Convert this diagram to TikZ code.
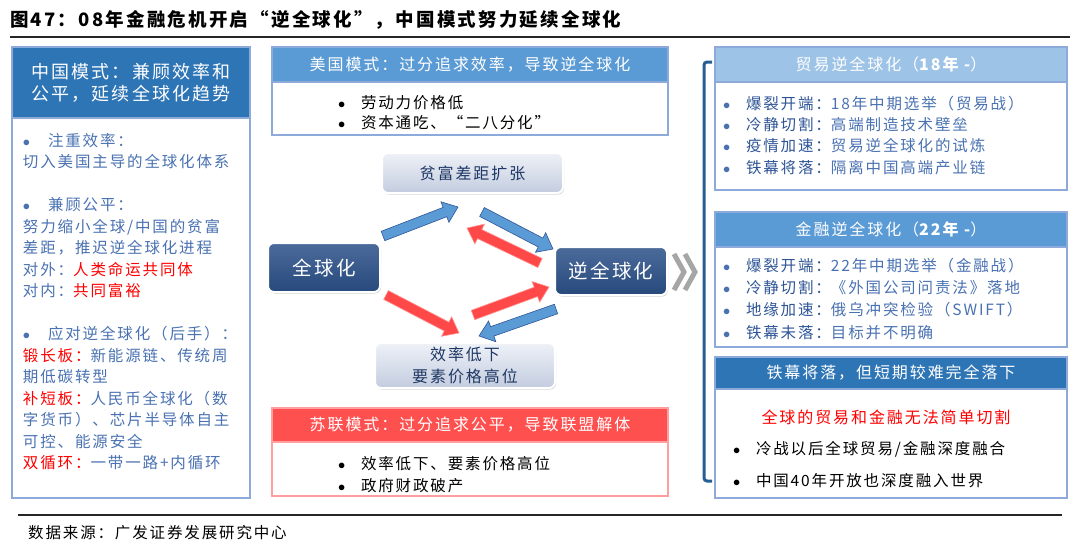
\documentclass[tikz,border=0pt]{standalone}
\usepackage{fontspec}
\setmainfont{Noto Sans CJK SC}[LetterSpace=12]
\usepackage{xcolor}
\usetikzlibrary{positioning, calc, shadows}
\definecolor{gfDark}  {HTML}{2E75B6}
\definecolor{gfMid}   {HTML}{5B9BD5}
\definecolor{gfLight} {HTML}{9DC3E6}
\definecolor{gfFrame} {HTML}{8EAADB}
\definecolor{gfText}  {HTML}{4A72B2}
\definecolor{gfLabel} {HTML}{2F5597}
\definecolor{gfNavy}  {HTML}{1F3864}
\definecolor{gfRed}   {HTML}{FF5050}
\definecolor{gfAlert} {HTML}{FF0000}
\definecolor{gfRule}  {HTML}{262626}
\definecolor{gfState} {HTML}{2B5189}
\definecolor{gfPaleTop}{HTML}{EEF1F7}
\definecolor{gfPaleBot}{HTML}{C3CCDF}
\newcommand{\bul}[1][23pt]{\makebox[#1][l]{$\bullet$}}
\newcommand{\fatarrow}[3]{%
  \filldraw[#1] ($(#2)!5pt!90:(#3)$)
    -- ($(#3)!14pt!(#2)!5pt!90:(#3)$) -- ($(#3)!14pt!(#2)!11pt!90:(#3)$)
    -- (#3)
    -- ($(#3)!14pt!(#2)!11pt!-90:(#3)$) -- ($(#3)!14pt!(#2)!5pt!-90:(#3)$)
    -- ($(#2)!5pt!-90:(#3)$) -- cycle;}
\tikzset{
  frame/.style = {rectangle, draw=gfFrame, fill=white, line width=1.2pt,
                  anchor=north west, inner sep=0pt, outer sep=0pt},
  head/.style  = {rectangle, draw=gfFrame, line width=1.2pt, anchor=north west,
                  text=white, inner sep=0pt, outer sep=0pt, align=center,
                  font=\fontsize{16}{21}\selectfont},
  lines/.style = {anchor=north west, inner sep=0pt, outer sep=0pt, align=left,
                  font=\fontsize{15.5}{21.5}\selectfont},
}

\begin{document}
\begin{tikzpicture}[x=1pt, y=-1pt,
  state/.style={rectangle, rounded corners=6pt, draw=white, line width=2pt,
                top color=gfState!85!white, bottom color=gfState!90!black,
                text=white, inner sep=0pt, font=\fontsize{19.5}{24}\selectfont,
                drop shadow={shadow xshift=1pt, shadow yshift=-1.5pt, opacity=0.35}},
  effect/.style={rectangle, rounded corners=6pt, draw=white, line width=2pt,
                 top color=gfPaleTop, bottom color=gfPaleBot,
                 text=gfNavy, align=center, inner sep=0pt,
                 font=\fontsize{16}{22}\selectfont,
                 drop shadow={shadow xshift=1pt, shadow yshift=-1.5pt, opacity=0.35}},
  blueway/.style={fill=gfMid, draw=gfLabel, line width=0.6pt},
  redway/.style={fill=gfRed!90!red, draw=gfRed!60!white, line width=0.6pt},
  chev/.style={draw=black!35, line width=5pt},
]
\path[use as bounding box, fill=white] (0,0) rectangle (1080,550);

% title and rules
\node[anchor=west, inner sep=0pt, font=\fontsize{18.5}{22}\selectfont\bfseries] (title) at (10,20)
  {图47：08年金融危机开启“逆全球化”，中国模式努力延续全球化};
\draw[gfRule, line width=2pt] (10,37) -- (1070,37);
\draw[gfRule, line width=2pt] (18,515) -- (1062,515);
\node[anchor=west, inner sep=0pt, font=\fontsize{15.5}{20}\selectfont] (source) at (28,533)
  {数据来源：广发证券发展研究中心};

% china model
\node[frame, minimum width=238pt, minimum height=451pt] (cnFrame) at (12,47) {};
\node[head, fill=gfDark, minimum width=238pt, minimum height=71pt,
      font=\fontsize{18}{22}\selectfont] (cnHead) at (12,47)
  {中国模式：兼顾效率和\\公平，延续全球化趋势};
\node[lines, text=gfText, below right=15pt and 11pt of cnHead.south west] (cnList) {
  \bul[25pt]注重效率：\\
  切入美国主导的全球化体系\\[21.5pt]
  \bul[25pt]兼顾公平：\\
  努力缩小全球/中国的贫富\\
  差距，推迟逆全球化进程\\
  对外：\textcolor{gfAlert}{人类命运共同体}\\
  对内：\textcolor{gfAlert}{共同富裕}\\[21.5pt]
  \bul[25pt]应对逆全球化（后手）：\\
  \textcolor{gfAlert}{锻长板：}新能源链、传统周\\
  期低碳转型\\
  \textcolor{gfAlert}{补短板：}人民币全球化（数\\
  字货币）、芯片半导体自主\\
  可控、能源安全\\
  \textcolor{gfAlert}{双循环：}一带一路+内循环};

% us and soviet models
\node[frame, minimum width=396pt, minimum height=88pt] (usFrame) at (272,47) {};
\node[head, fill=gfMid, minimum width=396pt, minimum height=35pt] (usHead) at (272,47)
  {美国模式：过分追求效率，导致逆全球化};
\node[lines, font=\fontsize{15.5}{20}\selectfont, below right=13pt and 66pt of usHead.south west] (usList)
  {\bul 劳动力价格低\\ \bul 资本通吃、“二八分化”};

\node[frame, draw=gfRed!55!white, minimum width=396pt, minimum height=88pt] (suFrame) at (272,408) {};
\node[head, fill=gfRed, draw=gfRed!55!white, minimum width=396pt, minimum height=34pt] (suHead) at (272,408)
  {苏联模式：过分追求公平，导致联盟解体};
\node[lines, font=\fontsize{15.5}{22}\selectfont, below right=14pt and 66pt of suHead.south west] (suList)
  {\bul 效率低下、要素价格高位\\ \bul 政府财政破产};

% cycle
\node[effect, minimum width=181pt, minimum height=40pt] (gap) at (472.5,173) {贫富差距扩张};
\node[state, minimum width=112pt, minimum height=49pt] (glob) at (324,267.5) {全球化};
\node[state, minimum width=112pt, minimum height=48pt] (deglob) at (611,271) {逆全球化};
\node[effect, minimum width=180pt, minimum height=45pt] (ineff) at (465,365.5) {效率低下\\要素价格高位};

\coordinate (a1s) at (383,236); \coordinate (a1e) at (458,207);
\coordinate (a2s) at (482,212); \coordinate (a2e) at (553,249);
\coordinate (a3s) at (540,263); \coordinate (a3e) at (467,228);
\coordinate (a4s) at (386,295); \coordinate (a4e) at (459,333);
\coordinate (a5s) at (473,315); \coordinate (a5e) at (549,287);
\coordinate (a6s) at (556,309); \coordinate (a6e) at (479,336);
\fatarrow{blueway}{a1s}{a1e}
\fatarrow{blueway}{a2s}{a2e}
\fatarrow{redway}{a3s}{a3e}
\fatarrow{redway}{a4s}{a4e}
\fatarrow{redway}{a5s}{a5e}
\fatarrow{blueway}{a6s}{a6e}

\draw[chev] (674,254) -- (684,272) -- (674,290);
\draw[chev] (685,254) -- (695,272) -- (685,290);
\draw[gfDark!80!black, line width=3pt, rounded corners=3pt] (712,62) -- (704,62) -- (704,481) -- (712,481);

% right side
\node[frame, minimum width=352pt, minimum height=143pt] (tradeFrame) at (715,47) {};
\node[head, fill=gfLight, minimum width=352pt, minimum height=35pt] (tradeHead) at (715,47)
  {贸易逆全球化（{\bfseries 18年 -}）};
\node[lines, text=gfText, font=\fontsize{15.5}{21.3}\selectfont,
      below right=14pt and 8pt of tradeHead.south west] (tradeList) {
  \bul\textcolor{gfLabel}{爆裂开端：}18年中期选举（贸易战）\\
  \bul\textcolor{gfLabel}{冷静切割：}高端制造技术壁垒\\
  \bul\textcolor{gfLabel}{疫情加速：}贸易逆全球化的试炼\\
  \bul\textcolor{gfLabel}{铁幕将落：}隔离中国高端产业链};

\node[frame, minimum width=352pt, minimum height=135pt] (finFrame) at (715,212) {};
\node[head, fill=gfMid, minimum width=352pt, minimum height=35pt] (finHead) at (715,212)
  {金融逆全球化（{\bfseries 22年 -}）};
\node[lines, text=gfText, font=\fontsize{15.5}{22.3}\selectfont,
      below right=11pt and 8pt of finHead.south west] (finList) {
  \bul\textcolor{gfLabel}{爆裂开端：}22年中期选举（金融战）\\
  \bul\textcolor{gfLabel}{冷静切割：}《外国公司问责法》落地\\
  \bul\textcolor{gfLabel}{地缘加速：}俄乌冲突检验（SWIFT）\\
  \bul\textcolor{gfLabel}{铁幕未落：}目标并不明确};

\node[frame, minimum width=352pt, minimum height=141pt] (curtFrame) at (715,357) {};
\node[head, fill=gfDark, minimum width=352pt, minimum height=32pt] (curtHead) at (715,357)
  {铁幕将落，但短期较难完全落下};
\node[text=gfAlert, inner sep=0pt, font=\fontsize{16}{20}\selectfont] (curtNote) at (886,417)
  {全球的贸易和金融无法简单切割};
\node[lines, font=\fontsize{15.5}{32}\selectfont,
      below right=52pt and 18pt of curtHead.south west] (curtList)
  {\bul 冷战以后全球贸易/金融深度融合\\ \bul 中国40年开放也深度融入世界};

\end{tikzpicture}
\end{document}
